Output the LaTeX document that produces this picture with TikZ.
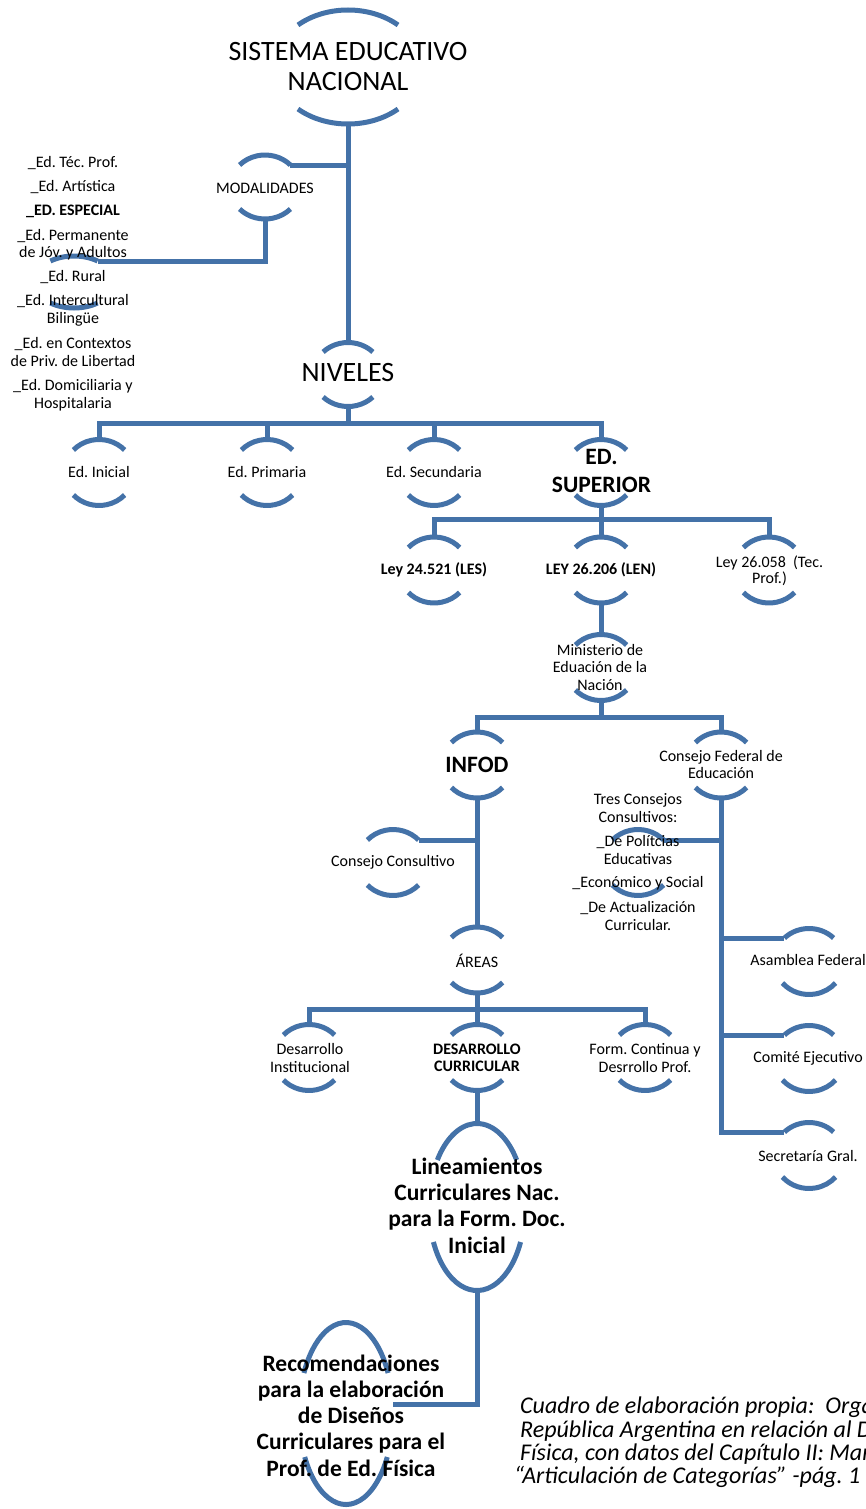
\documentclass[tikz,border=0pt]{standalone}
\usepackage{fontspec}
\setmainfont{Carlito}
\definecolor{linkblue}{RGB}{68,114,168}

% ring: an oval of which only the upper and lower arcs are drawn
% #1 name, #2 cx, #3 cy, #4 x radius, #5 y radius, #6 gap above centre, #7 gap below centre
\newcommand\ringnode[7]{%
  \pgfmathsetmacro\rnTa{asin(#6/#5)}%
  \pgfmathsetmacro\rnTb{asin(#7/#5)}%
  \pgfmathsetmacro\rnWa{#4*cos(\rnTa)}%
  \pgfmathsetmacro\rnWb{#4*cos(\rnTb)}%
  \coordinate (#1) at (#2,#3);
  \coordinate (#1-n) at (#2,#3-#5);
  \coordinate (#1-s) at (#2,#3+#5);
  \coordinate (#1-ne) at (#2+\rnWa,#3-#6);
  \coordinate (#1-nw) at (#2-\rnWa,#3-#6);
  \coordinate (#1-se) at (#2+\rnWb,#3+#7);
  \coordinate (#1-sw) at (#2-\rnWb,#3+#7);
  \draw[ring] (#1-ne) arc[start angle=\rnTa, end angle=180-\rnTa, x radius=#4pt, y radius=#5pt];
  \draw[ring] (#1-sw) arc[start angle=180+\rnTb, end angle=360-\rnTb, x radius=#4pt, y radius=#5pt];
}
% small ring of the usual size
\newcommand\smallring[3]{\ringnode{#1}{#2}{#3}{35}{33}{22.5}{22.5}}

\begin{document}
\frenchspacing
\begin{tikzpicture}[x=1pt,y=-1pt,
  ring/.style={draw=linkblue,line width=5pt},
  conn/.style={draw=linkblue,line width=5pt},
  lbl/.style={font=\fontsize{16}{17.5}\selectfont,align=center,inner sep=0pt},
  lblb/.style={font=\fontsize{16}{17.5}\selectfont\bfseries,align=center,inner sep=0pt},
  huge/.style={font=\fontsize{28}{30}\selectfont,align=center,inner sep=0pt},
  bigb/.style={font=\fontsize{23.5}{26.3}\selectfont\bfseries,align=center,inner sep=0pt},
  capt/.style={font=\fontsize{24}{24}\selectfont\itshape,inner sep=0pt,anchor=base west}
]
\useasboundingbox (0,0) rectangle (865,1509);

% ---------- rings ----------
\ringnode{sys}{348}{67}{74}{57}{42}{42}
\ringnode{mod}{265}{187}{35}{32}{22}{22}
\ringnode{lst}{74}{282}{40}{26}{21}{21}
\ringnode{niv}{348}{374.5}{35}{32}{22.5}{22.5}
\smallring{ini}{99}{472.5}
\smallring{pri}{267}{472.5}
\smallring{sec}{434}{472.5}
\smallring{sup}{601}{472.5}
\smallring{les}{434}{570}
\smallring{len}{601}{570}
\smallring{tec}{769}{570}
\smallring{min}{601}{667.5}
\smallring{inf}{477}{765}
\smallring{cfe}{721}{765}
\smallring{cco}{393}{862.5}
\smallring{tcc}{638}{862.5}
\smallring{are}{477}{960}
\smallring{din}{309}{1057.5}
\smallring{dcu}{477}{1057.5}
\smallring{fcd}{645}{1057.5}
\ringnode{asf}{809}{961.5}{35}{33}{23.5}{21.5}
\ringnode{cej}{809}{1058.5}{35}{33}{23.5}{21.5}
\ringnode{sgr}{809}{1155.5}{35}{33}{23.5}{21.5}
\ringnode{lin}{477}{1207}{48}{83.5}{47}{35}
\ringnode{rec}{346}{1413.5}{47}{91}{40.5}{43.5}

% ---------- connectors ----------
\draw[conn] (sys-s) -- (niv-n);
\draw[conn] (mod-ne) -- (sys-s |- mod-ne);
\draw[conn] (mod-s) |- (lst-ne);

\coordinate (nivbar) at (348,423);
\draw[conn] (niv-s) -- (nivbar);
\draw[conn] (ini-n) |- (sup-n |- nivbar) -- (sup-n);
\draw[conn] (pri-n) -- (pri-n |- nivbar);
\draw[conn] (sec-n) -- (sec-n |- nivbar);

\coordinate (supbar) at (601,519);
\draw[conn] (sup-s) -- (supbar);
\draw[conn] (les-n) |- (tec-n |- supbar) -- (tec-n);
\draw[conn] (len-n) -- (len-n |- supbar);
\draw[conn] (len-s) -- (min-n);

\coordinate (minbar) at (601,717);
\draw[conn] (min-s) -- (minbar);
\draw[conn] (inf-n) |- (cfe-n |- minbar) -- (cfe-n);

\draw[conn] (inf-s) -- (are-n);
\draw[conn] (cco-ne) -- (inf-s |- cco-ne);

\draw[conn] (cfe-s) |- (sgr-nw);
\draw[conn] (cfe-s |- asf-nw) -- (asf-nw);
\draw[conn] (cfe-s |- cej-nw) -- (cej-nw);
\draw[conn] (tcc-ne) -- (cfe-s |- tcc-ne);

\coordinate (arebar) at (477,1009);
\draw[conn] (are-s) -- (arebar);
\draw[conn] (din-n) |- (fcd-n |- arebar) -- (fcd-n);
\draw[conn] (dcu-n) -- (dcu-n |- arebar);
\draw[conn] (dcu-s) -- (lin-n);

\coordinate (reclink) at (393,1404);
\draw[conn] (lin-s) |- (reclink);

% ---------- labels ----------
\node[huge] (t-sys) at (348,67) {SISTEMA EDUCATIVO\\NACIONAL};
\node[lbl] (t-mod) at (265,188) {MODALIDADES};

\node[lbl] (m1) at (73,163) {\_Ed. Téc. Prof.};
\node[lbl] (m2) at (73,187) {\_Ed. Artística};
\node[lblb] (m3) at (73,211) {\_ED. ESPECIAL};
\node[lbl] (m4) at (73,244.5) {\_Ed. Permanente\\de Jóv. y Adultos};
\node[lbl] (m5) at (73,277) {\_Ed. Rural};
\node[lbl] (m6) at (73,310.5) {\_Ed. Intercultural\\Bilingüe};
\node[lbl] (m7) at (73,352) {\_Ed. en Contextos\\de Priv. de Libertad};
\node[lbl] (m8) at (73,395) {\_Ed. Domiciliaria y\\Hospitalaria};

\node[huge] (t-niv) at (348,373) {NIVELES};
\node[lbl] (t-ini) at (99,472) {Ed. Inicial};
\node[lbl] (t-pri) at (267,472) {Ed. Primaria};
\node[lbl] (t-sec) at (434,472) {Ed. Secundaria};
\node[bigb,font=\fontsize{23.5}{28}\selectfont\bfseries] (t-sup) at (601.5,471) {ED.\\SUPERIOR};

\node[lblb] (t-les) at (434,570) {Ley 24.521 (LES)};
\node[lblb] (t-len) at (601,570) {LEY 26.206 (LEN)};
\node[lbl,font=\fontsize{16}{15.6}\selectfont] (t-tec) at (769.5,570.5) {Ley 26.058\ \ (Tec.\\Prof.)};

\node[lbl] (t-min) at (600,667) {Ministerio de\\Eduación de la\\Nación};
\node[bigb] (t-inf) at (477,765) {INFOD};
\node[lbl] (t-cfe) at (721,764.5) {Consejo Federal de\\Educación};
\node[lbl] (t-cco) at (393,862) {Consejo Consultivo};

\node[lbl] (c1) at (638,808) {Tres Consejos\\Consultivos:};
\node[lbl] (c2) at (638,850) {\_De Polítcias\\Educativas};
\node[lbl] (c3) at (638,883) {\_Económico y Social};
\node[lbl] (c4) at (638,916) {\_De Actualización\\Curricular.};

\node[lbl] (t-are) at (477,961) {ÁREAS};
\node[lbl] (t-din) at (310,1058) {Desarrollo\\Institucional};
\node[lblb] (t-dcu) at (477,1058) {DESARROLLO\\CURRICULAR};
\node[lbl] (t-fcd) at (645,1058) {Form. Continua y\\Desrrollo Prof.};

\node[lbl] (t-asf) at (808,960) {Asamblea Federal};
\node[lbl] (t-cej) at (808,1058) {Comité Ejecutivo};
\node[lbl] (t-sgr) at (808,1156) {Secretaría Gral.};

\node[bigb] (t-lin) at (477,1205.5) {Lineamientos\\Curriculares Nac.\\para la Form. Doc.\\Inicial};
\node[bigb] (t-rec) at (351,1415.5) {Recomendaciones\\para la elaboración\\de Diseños\\Curriculares para el\\Prof. de Ed. Física};

% ---------- caption (runs off the right edge) ----------
\begin{scope}
\clip (0,0) rectangle (865,1509);
\node[capt] (cap1) at (520,1413) {Cuadro de elaboración propia:\ \ Orga};
\node[capt] (cap2) at (520,1437) {República Argentina en relación al D};
\node[capt] (cap3) at (520,1460) {Física, con datos del Capítulo II: Mar};
\node[capt] (cap4) at (514,1483) {“Articulación de Categorías” -pág. 1};
\end{scope}
\end{tikzpicture}
\end{document}
